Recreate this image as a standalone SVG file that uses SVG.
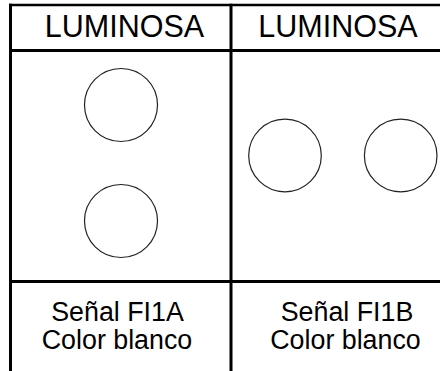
<svg xmlns="http://www.w3.org/2000/svg" width="440" height="371" viewBox="0 0 440 371">
<style>
.ln{stroke:#000;stroke-width:3;fill:none}
.lamp{fill:#fff;stroke:#222;stroke-width:1.2}
.hd{font-family:"Liberation Sans",Arial,sans-serif;font-size:30.5px;fill:#000;text-anchor:middle}
.lb{font-family:"Liberation Sans",Arial,sans-serif;font-size:26.8px;fill:#000;text-anchor:middle}
</style>
<rect width="440" height="371" fill="#fff"/>
<g id="connectors">
<line class="ln" x1="9" y1="5" x2="440" y2="5" style="stroke-width:2.5"/>
<line class="ln" x1="10.5" y1="3.8" x2="10.5" y2="371"/>
<line class="ln" x1="231" y1="3.8" x2="231" y2="371"/>
<line class="ln" x1="9" y1="50.5" x2="440" y2="50.5"/>
<line class="ln" x1="9" y1="281.5" x2="440" y2="281.5"/>
</g>
<g id="header-a"><text class="hd" x="124.5" y="37">LUMINOSA</text></g>
<g id="header-b"><text class="hd" x="338" y="37">LUMINOSA</text></g>
<g id="signal-a">
<circle class="lamp" cx="121" cy="105" r="36.5"/>
<circle class="lamp" cx="121" cy="221" r="36.5"/>
</g>
<g id="signal-b">
<circle class="lamp" cx="285" cy="155.5" r="36.3"/>
<circle class="lamp" cx="400.7" cy="155.5" r="36.3"/>
</g>
<g id="label-a">
<text class="lb" x="117.5" y="321">Señal FI1A</text>
<text class="lb" x="117" y="349">Color blanco</text>
</g>
<g id="label-b">
<text class="lb" x="347" y="321">Señal FI1B</text>
<text class="lb" x="345.5" y="349">Color blanco</text>
</g>
</svg>
